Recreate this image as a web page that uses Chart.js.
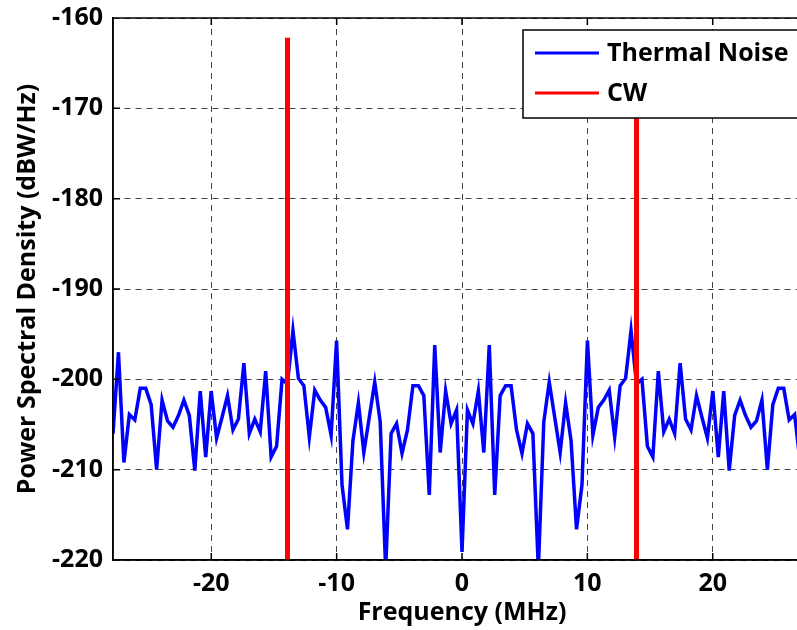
<!DOCTYPE html>
<html>
<head>
<meta charset="utf-8">
<script src="https://cdn.jsdelivr.net/npm/chart.js@4.4.0/dist/chart.umd.min.js"></script>
<style>
  html, body { margin: 0; padding: 0; overflow: hidden; background: #fff; }
  #wrap { width: 811px; height: 630px; }
</style>
</head>
<body>
<div id="wrap"><canvas id="psd" width="811" height="630"></canvas></div>
<script>
// PSD bins: 129 bins, 0.435 MHz apart, centred on 0 MHz
const FREQ_STEP = 0.435;
const FREQ_LIMIT = 27.84;

// thermal noise level per bin (dBW/Hz), from -27.84 MHz to +27.84 MHz
const noiseLevels = [
  -206.0, -197.0, -209.2, -203.9, -204.5, -201.0, -201.0, -202.8, -210.0, -202.3,
  -204.6, -205.3, -204.0, -202.3, -204.0, -210.1, -201.3, -208.6, -201.3, -206.5,
  -204.2, -201.8, -205.6, -204.4, -198.2, -206.0, -204.4, -205.8, -199.1, -208.6,
  -207.4, -200.0, -200.5, -194.6, -199.9, -200.7, -206.4, -201.2, -202.3, -203.1,
  -206.2, -195.7, -211.7, -216.6, -206.8, -202.6, -208.1, -204.2, -200.3, -204.7,
  -221.0, -206.0, -204.9, -208.2, -205.6, -200.7, -200.7, -201.8, -212.8, -196.2,
  -208.1, -201.3, -204.9, -203.4,
  -219.1,
  -203.4, -204.9, -201.3, -208.1, -196.2, -212.8, -201.8, -200.7, -200.7, -205.6,
  -208.2, -204.9, -206.0, -221.0, -204.7, -200.3, -204.2, -208.1, -202.6, -206.8,
  -216.6, -211.7, -195.7, -206.2, -203.1, -202.3, -201.2, -206.4, -200.7, -199.9,
  -194.6, -200.5, -200.0, -207.4, -208.6, -199.1, -205.8, -204.4, -206.0, -198.2,
  -204.4, -205.6, -201.8, -204.2, -206.5, -201.3, -208.6, -201.3, -210.1, -204.0,
  -202.3, -204.0, -205.3, -204.6, -202.3, -210.0, -202.8, -201.0, -201.0, -204.5,
  -203.9, -209.2, -197.0, -206.0
];

// CW tones
const cwFreqs = [-13.92, 13.92];
const cwPeaks = [-162.2, -162.2];
const CW_FLOOR = -300;

const xTicks = [-20, -10, 0, 10, 20];
const yTicks = [-220, -210, -200, -190, -180, -170, -160];

const noisePoints = noiseLevels.map((v, i) => ({ x: (i - 64) * FREQ_STEP, y: v }));
const cwPoints = [];
cwFreqs.forEach((f, i) => {
  cwPoints.push({ x: f, y: CW_FLOOR }, { x: f, y: cwPeaks[i] }, { x: f, y: null });
});

const FONT = { family: "'Open Sans', sans-serif", size: 25, weight: 'bold' };

// solid frame + inward tick marks, matlab style
const framePlugin = {
  id: 'frame',
  afterDatasetsDraw(chart) {
    const { ctx, chartArea: a, scales } = chart;
    const tl = 7;
    ctx.save();
    ctx.strokeStyle = '#000';
    ctx.lineWidth = 1.5;
    ctx.beginPath();
    ctx.moveTo(a.left, a.top);
    ctx.lineTo(a.right, a.top);
    ctx.moveTo(a.left, a.top);
    ctx.lineTo(a.left, a.bottom);
    ctx.lineTo(a.right, a.bottom);
    xTicks.forEach(v => {
      const px = scales.x.getPixelForValue(v);
      ctx.moveTo(px, a.bottom); ctx.lineTo(px, a.bottom - tl);
      ctx.moveTo(px, a.top); ctx.lineTo(px, a.top + tl);
    });
    yTicks.forEach(v => {
      const py = scales.y.getPixelForValue(v);
      ctx.moveTo(a.left, py); ctx.lineTo(a.left + tl, py);
    });
    ctx.stroke();
    ctx.restore();
  }
};

const legendPlugin = {
  id: 'boxLegend',
  afterDraw(chart) {
    const { ctx } = chart;
    const x = 523, y = 30, w = 292, h = 88;
    ctx.save();
    ctx.fillStyle = '#fff';
    ctx.fillRect(x, y, w, h);
    ctx.strokeStyle = '#000';
    ctx.lineWidth = 1.5;
    ctx.strokeRect(x, y, w, h);
    ctx.font = `${FONT.weight} ${FONT.size}px ${FONT.family}`;
    ctx.textBaseline = 'middle';
    ctx.fillStyle = '#000';
    chart.data.datasets.forEach((ds, i) => {
      const ly = y + 23 + i * 40;
      ctx.strokeStyle = ds.borderColor;
      ctx.lineWidth = 3;
      ctx.beginPath();
      ctx.moveTo(x + 12, ly);
      ctx.lineTo(x + 76, ly);
      ctx.stroke();
      ctx.fillText(ds.label, x + 84, ly + 1);
    });
    ctx.restore();
  }
};

new Chart(document.getElementById('psd'), {
  type: 'line',
  data: {
    datasets: [
      { label: 'Thermal Noise', data: noisePoints, borderColor: '#0000ff', borderWidth: 3.5,
        pointRadius: 0, tension: 0, order: 2 },
      { label: 'CW', data: cwPoints, borderColor: '#ff0000', borderWidth: 5,
        pointRadius: 0, spanGaps: false, order: 1 }
    ]
  },
  options: {
    responsive: false,
    animation: false,
    layout: { padding: { top: 18, left: 0, right: 0, bottom: 0 } },
    plugins: { legend: { display: false }, tooltip: { enabled: false } },
    scales: {
      x: {
        type: 'linear',
        min: -FREQ_LIMIT,
        max: FREQ_LIMIT,
        afterBuildTicks: s => { s.ticks = xTicks.map(v => ({ value: v })); },
        afterFit: s => { s.height = 70; s.paddingLeft = 0; s.paddingRight = 0; },
        ticks: { font: FONT, color: '#000', padding: 9, maxRotation: 0 },
        grid: { color: '#444', lineWidth: 1, drawTicks: false },
        border: { display: true, color: '#000', width: 1.5, dash: [6, 5] },
        title: { display: true, text: 'Frequency (MHz)', font: FONT, color: '#000',
                 padding: { top: 0, bottom: 2 } }
      },
      y: {
        type: 'linear',
        min: -220,
        max: -160,
        afterBuildTicks: s => { s.ticks = yTicks.map(v => ({ value: v })); },
        afterFit: s => { s.width = 113; s.paddingTop = 0; s.paddingBottom = 0; },
        ticks: { font: FONT, color: '#000', padding: 10 },
        grid: { color: '#444', lineWidth: 1, drawTicks: false },
        border: { display: true, color: '#000', width: 1.5, dash: [6, 5] },
        title: { display: true, text: 'Power Spectral Density (dBW/Hz)', font: FONT, color: '#000',
                 padding: { top: 13, bottom: 0 } }
      }
    }
  },
  plugins: [framePlugin, legendPlugin]
});
</script>
</body>
</html>
